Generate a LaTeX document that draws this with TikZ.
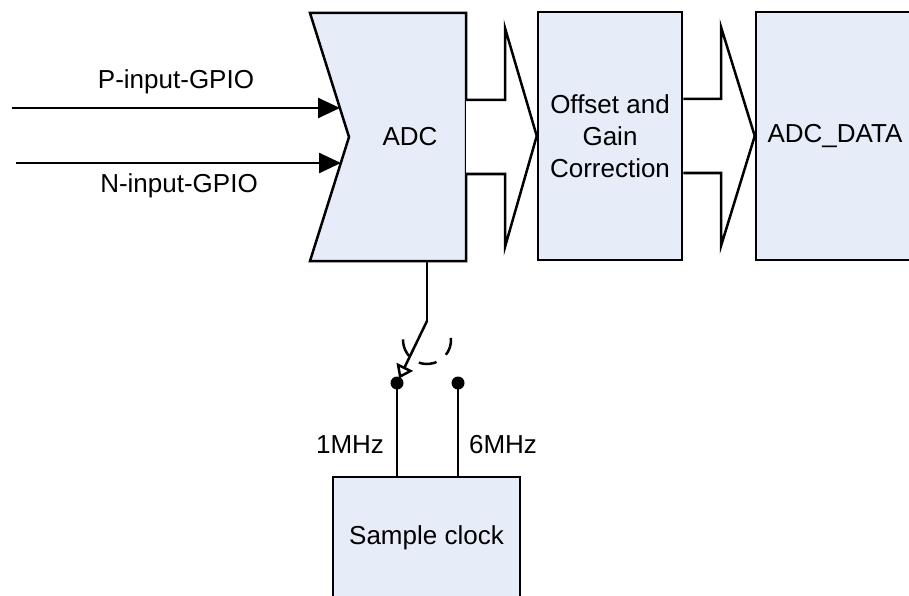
\documentclass[tikz,border=0pt]{standalone}
\usepackage{fontspec}
\setmainfont{Liberation Sans}
\usetikzlibrary{arrows.meta,calc}
\definecolor{boxfill}{RGB}{230,237,248}
\begin{document}
\begin{tikzpicture}[x=1pt,y=-1pt,line width=2.5pt,line join=miter,
  font=\fontsize{26}{32}\selectfont,
  block/.style={draw,fill=boxfill,inner sep=0pt,align=center},
  lbl/.style={inner sep=0pt},
  inarrow/.style={-{Triangle[length=22pt,width=20pt]}},
  swarrow/.style={-{Triangle[open,length=13pt,width=18pt]},shorten >=5pt},
  dot/.style={circle,fill,inner sep=0pt,minimum size=13pt},
  bus/.style={draw,fill=white}]
\useasboundingbox (0,0) rectangle (909,596);
\clip (0,0) rectangle (909,596);

% ADC body with notched input side
\draw[fill=boxfill] (310,13) -- (466,13) -- (466,261) -- (310,261) -- (349,137) -- cycle;
\node[lbl] (adc) at (410,137) {ADC};
\coordinate (adcP) at (340,108);
\coordinate (adcN) at (341,163);
\coordinate (adcbot) at (427,261);

% correction and output blocks
\node[block,minimum width=144pt,minimum height=248pt] (corr) at (610,136)
  {Offset and\\Gain\\Correction};
\node[block,minimum width=158pt,minimum height=248pt] (data) at (835,136) {ADC\_DATA};
\node[block,minimum width=187pt,minimum height=122pt] (clk) at (426.5,538) {Sample clock};

% analogue inputs
\coordinate (pin) at (12,108);
\coordinate (nin) at (16,163);
\draw[inarrow] (pin) -- (adcP);
\draw[inarrow] (nin) -- (adcN);
\node[lbl] (plbl) at (176,82) {P-input-GPIO};
\node[lbl] (nlbl) at (179,186) {N-input-GPIO};

% wide bus arrows
\path[bus] (466,100) -- (505,100) -- (505,28) -- (corr.west) -- (505,247)
  -- (505,174) -- (466,174);
\path[bus] (corr.east |- 0,99) -- (721,99) -- (721,27) -- (data.west) -- (721,246)
  -- (721,173) -- (corr.east |- 0,173);

% clock select switch
\coordinate (pivot) at (427,321);
\coordinate (arcc) at (427,340);
\node[dot] (d1) at (397,383) {};
\node[dot] (d6) at (458,383) {};
\draw (adcbot) -- (pivot);
\draw[swarrow] (pivot) -- (d1.center);
\draw[dash pattern=on 18pt off 12pt] ($(arcc)+(-5:24)$) arc[start angle=-5,end angle=185,radius=24];
\draw (d1.center) -- (d1.center |- clk.north);
\draw (d6.center) -- (d6.center |- clk.north);
\node[lbl] (f1) at (350,445) {1MHz};
\node[lbl] (f6) at (503,445) {6MHz};
\end{tikzpicture}
\end{document}
